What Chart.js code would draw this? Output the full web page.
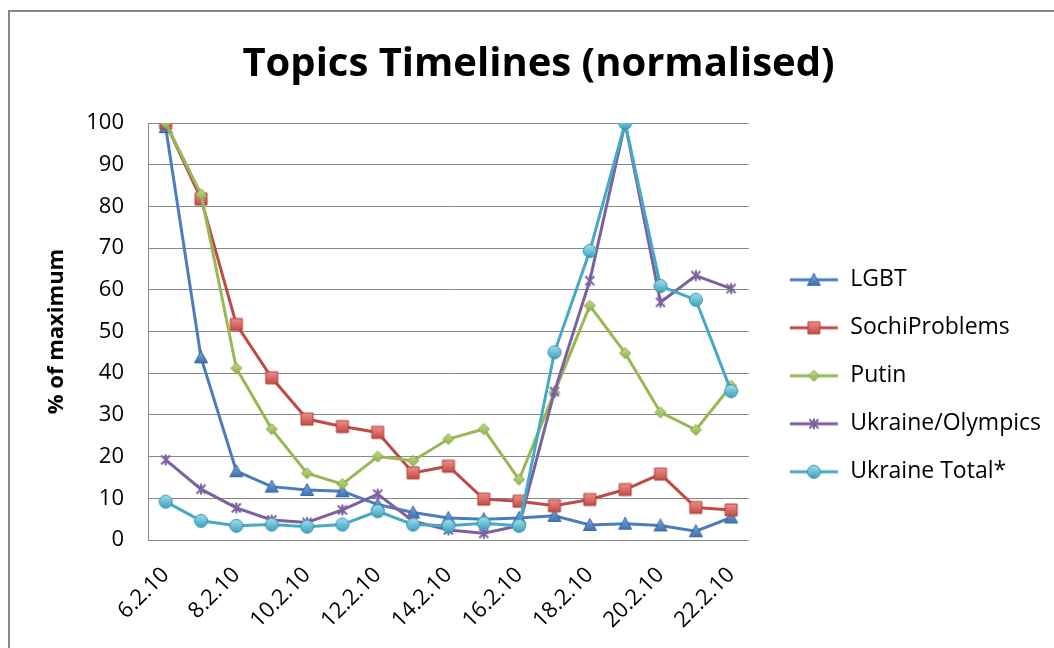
<!DOCTYPE html>
<html>
<head>
<meta charset="utf-8">
<title>Topics Timelines (normalised)</title>
<script src="https://cdn.jsdelivr.net/npm/chart.js@4.4.0/dist/chart.umd.min.js"></script>
<style>
html, body { margin: 0; padding: 0; background: #fff; }
#wrap { position: relative; width: 1054px; height: 648px; overflow: hidden; }
#frame { position: absolute; left: 8px; top: 10px; width: 1200px; height: 800px; border-left: 2px solid #878787; border-top: 2px solid #878787; }
#chart { position: absolute; left: 0; top: 0; }
</style>
</head>
<body>
<div id="wrap">
    <div id="frame"></div>
    <canvas id="chart" width="1054" height="648"></canvas>
</div>
<script>
const days = ['6.2.10', '7.2.10', '8.2.10', '9.2.10', '10.2.10', '11.2.10', '12.2.10', '13.2.10', '14.2.10',
    '15.2.10', '16.2.10', '17.2.10', '18.2.10', '19.2.10', '20.2.10', '21.2.10', '22.2.10'];

const lgbt = [99, 43.8, 16.5, 12.8, 12, 11.7, 8.5, 6.6, 5.3, 5, 5.3, 5.8, 3.6, 3.9, 3.5, 2.1, 5.4];
const sochiProblems = [100, 81.8, 51.7, 38.9, 29, 27.2, 25.8, 16.1, 17.7, 9.8, 9.3, 8.2, 9.7, 12.1, 15.8, 7.8, 7.2];
const putin = [100, 82.9, 41.2, 26.6, 16, 13.4, 20, 19, 24.2, 26.6, 14.5, 35.4, 56.2, 44.8, 30.6, 26.4, 37];
const ukraineOlympics = [19.2, 12.2, 7.7, 4.8, 4.2, 7.2, 11, 4.5, 2.4, 1.6, 3.4, 35.6, 62.2, 100, 57, 63.4, 60.3];
const ukraineTotal = [9.2, 4.6, 3.4, 3.7, 3.2, 3.7, 6.9, 3.7, 3.4, 4, 3.4, 45, 69.3, 100, 60.9, 57.6, 35.7];

const seriesNames = ['LGBT', 'SochiProblems', 'Putin', 'Ukraine/Olympics', 'Ukraine Total*'];
const yTicks = [0, 10, 20, 30, 40, 50, 60, 70, 80, 90, 100];

const font = "'Open Sans', sans-serif";

const styles = [
    { kind: 'tri', line: '#4a7ebb', light: '#7aa6dc', dark: '#3d70ae', edge: '#3766a3' },
    { kind: 'rect', line: '#be4b48', light: '#ee8f8b', dark: '#c44a46', edge: '#b0403d' },
    { kind: 'diamond', line: '#98b954', light: '#c2dc8a', dark: '#8fb04a', edge: '#84a445' },
    { kind: 'star', line: '#7d60a0', light: '#7d60a0', dark: '#7d60a0', edge: '#7d60a0' },
    { kind: 'circle', line: '#46aac5', light: '#9fdcec', dark: '#3ea4c0', edge: '#3596b1' }
];

// marker image, optionally with the legend line through it
function markerCanvas(st, withLine) {
    const w = withLine ? 50 : 18, h = 18;
    const c = document.createElement('canvas');
    c.width = w;
    c.height = h;
    const ctx = c.getContext('2d');
    const cx = w / 2, cy = h / 2;
    if (withLine) {
        ctx.strokeStyle = st.line;
        ctx.lineWidth = 3;
        ctx.beginPath();
        ctx.moveTo(1, cy);
        ctx.lineTo(w - 1, cy);
        ctx.stroke();
    }
    const grad = ctx.createLinearGradient(0, cy - 6, 0, cy + 6);
    grad.addColorStop(0, st.light);
    grad.addColorStop(1, st.dark);
    ctx.fillStyle = grad;
    ctx.strokeStyle = st.edge;
    ctx.lineWidth = 1;
    ctx.beginPath();
    if (st.kind === 'tri') {
        ctx.moveTo(cx, cy - 6.5);
        ctx.lineTo(cx + 6.5, cy + 5.5);
        ctx.lineTo(cx - 6.5, cy + 5.5);
        ctx.closePath();
    } else if (st.kind === 'rect') {
        ctx.rect(cx - 6, cy - 6, 12, 12);
    } else if (st.kind === 'diamond') {
        ctx.moveTo(cx, cy - 5.5);
        ctx.lineTo(cx + 5.5, cy);
        ctx.lineTo(cx, cy + 5.5);
        ctx.lineTo(cx - 5.5, cy);
        ctx.closePath();
    } else if (st.kind === 'circle') {
        ctx.arc(cx, cy, 6.5, 0, Math.PI * 2);
    }
    if (st.kind === 'star') {
        ctx.lineWidth = 2;
        ctx.moveTo(cx - 4.5, cy - 4.5); ctx.lineTo(cx + 4.5, cy + 4.5);
        ctx.moveTo(cx + 4.5, cy - 4.5); ctx.lineTo(cx - 4.5, cy + 4.5);
        ctx.moveTo(cx, cy - 5.5); ctx.lineTo(cx, cy + 5.5);
        ctx.stroke();
    } else {
        ctx.fill();
        ctx.stroke();
    }
    return c;
}

const allData = [lgbt, sochiProblems, putin, ukraineOlympics, ukraineTotal];

const datasets = allData.map((d, i) => ({
    label: seriesNames[i],
    data: d,
    yAxisID: 'y',
    borderColor: styles[i].line,
    backgroundColor: styles[i].line,
    borderWidth: 3,
    tension: 0,
    pointStyle: markerCanvas(styles[i], false),
    pointRadius: 5,
    order: allData.length - 1 - i
}));

const legendImages = styles.map(st => markerCanvas(st, true));

const ctx = document.getElementById('chart').getContext('2d');
new Chart(ctx, {
    type: 'line',
    data: { labels: days, datasets: datasets },
    options: {
        responsive: false,
        animation: false,
        layout: { padding: { left: 26, right: 3, top: 0, bottom: 0 } },
        plugins: {
            title: {
                display: true,
                text: 'Topics Timelines (normalised)',
                color: '#000',
                font: { family: font, size: 40, weight: 'bold' },
                padding: { top: 41, bottom: 34 }
            },
            legend: {
                position: 'right',
                maxWidth: 400,
                title: { display: true, text: ' ', padding: 38, font: { family: font, size: 23 } },
                labels: {
                    color: '#000',
                    font: { family: font, size: 23 },
                    usePointStyle: true,
                    pointStyleWidth: 50,
                    padding: 25,
                    generateLabels: () => seriesNames.map((name, i) => ({
                        text: name,
                        fillStyle: styles[i].line,
                        strokeStyle: styles[i].line,
                        lineWidth: 0,
                        pointStyle: legendImages[i],
                        hidden: false,
                        datasetIndex: i,
                        fontColor: '#000'
                    }))
                }
            },
            tooltip: { enabled: false }
        },
        scales: {
            x: {
                offset: true,
                grid: { display: false, drawTicks: false },
                border: { display: true, color: '#898989', width: 1 },
                ticks: {
                    autoSkip: false,
                    minRotation: 45,
                    maxRotation: 45,
                    padding: 22,
                    color: '#000',
                    font: { family: font, size: 22 },
                    callback: (v, i) => (i % 2 === 0 ? days[i] : '')
                },
                afterFit: s => { s.height = 108; }
            },
            y: {
                min: 0,
                max: 100,
                afterBuildTicks: s => { s.ticks = yTicks.map(v => ({ value: v })); },
                grid: { color: '#898989', lineWidth: 1, drawTicks: false },
                border: { display: true, color: '#898989', width: 1 },
                ticks: {
                    padding: 24,
                    color: '#000',
                    font: { family: font, size: 22 }
                },
                title: {
                    display: true,
                    text: '% of maximum',
                    color: '#000',
                    font: { family: font, size: 22, weight: 'bold' },
                    padding: { top: 18, bottom: 18 }
                },
                afterFit: s => { s.width = 122; }
            },
            gap: {
                type: 'linear',
                position: 'right',
                display: true,
                grid: { display: false, drawOnChartArea: false, drawTicks: false },
                border: { display: false },
                ticks: { display: false },
                afterFit: s => { s.width = 15; }
            }
        }
    }
});
</script>
</body>
</html>
